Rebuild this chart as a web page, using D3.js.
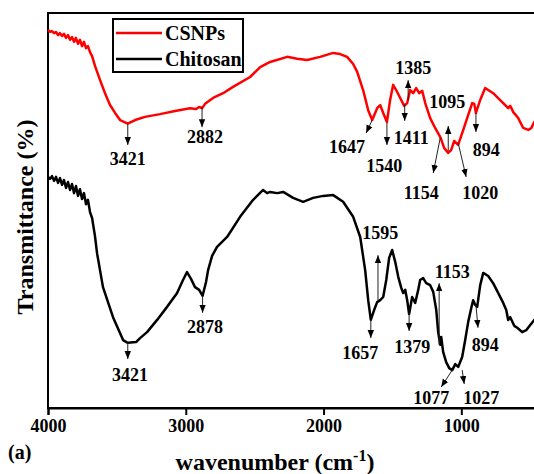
<!DOCTYPE html>
<html>
<head>
<meta charset="utf-8">
<script src="https://cdn.jsdelivr.net/npm/d3@7"></script>
<style>
  body { margin: 0; background: #fff; }
  text { font-family: 'Liberation Serif', 'Times New Roman', serif; font-weight: bold; }
</style>
</head>
<body>
<svg id="ftir"></svg>
<script>
//ftir spectra (wavenumber in cm-1, transmittance in arbitrary %)
let csnpWave = [4000, 3985, 3971, 3956, 3942, 3927, 3913, 3898, 3884, 3869, 3855, 3840, 3826, 3811, 3797, 3782, 3768, 3753, 3739, 3724, 3710, 3695, 3680, 3659,
  3622, 3586, 3550, 3513, 3477, 3421, 3368, 3296, 3187, 3078, 2969, 2925, 2903, 2882, 2860, 2802, 2729, 2657, 2533, 2460, 2388, 2264, 2192, 2119, 2025, 1930,
  1880, 1829, 1785, 1756, 1713, 1676, 1647, 1611, 1589, 1567, 1540, 1517, 1495, 1473, 1451, 1415, 1393, 1371, 1349, 1328, 1306, 1284, 1262, 1226, 1190, 1153,
  1124, 1095, 1074, 1052, 1023, 986, 950, 921, 906, 894, 863, 827, 769, 696, 660, 645, 623, 587, 551, 514, 492, 471, 427]
let csnpT = [95.7, 95.2, 95.4, 94.9, 95.2, 94.4, 94.9, 94.2, 94.7, 93.7, 94.4, 93.2, 93.9, 92.7, 93.7, 92.2, 93.2, 91.6, 92.7, 91.1, 91.6, 90.1, 89.1, 86.6,
  83.0, 79.7, 76.7, 74.7, 72.9, 72.0, 72.9, 73.7, 74.4, 75.2, 75.9, 75.7, 76.2, 75.9, 77.0, 78.5, 79.7, 81.3, 83.8, 86.3, 87.6, 88.9, 88.4, 88.1, 88.9, 89.9,
  89.6, 88.9, 87.1, 85.1, 80.5, 75.4, 72.9, 75.9, 76.7, 74.7, 72.4, 78.0, 81.8, 80.5, 79.0, 76.5, 77.2, 80.5, 79.7, 81.0, 79.7, 80.3, 77.2, 73.4, 70.9, 68.6,
  65.8, 64.6, 65.3, 67.6, 66.6, 70.4, 74.2, 77.2, 77.0, 74.7, 78.0, 81.0, 79.7, 77.2, 75.9, 76.5, 74.9, 73.4, 70.9, 70.4, 70.9, 72.4, 73.9]

let chitosanWave = [4000, 3985, 3971, 3956, 3942, 3927, 3913, 3898, 3884, 3869, 3855, 3840, 3826, 3811, 3797, 3782, 3768, 3753, 3739, 3724, 3710, 3695, 3680, 3659,
  3644, 3601, 3528, 3455, 3421, 3361, 3332, 3281, 3208, 3136, 3063, 3020, 2991, 2962, 2933, 2903, 2878, 2853, 2838, 2809, 2773, 2700, 2606, 2511, 2439, 2410,
  2388, 2337, 2293, 2221, 2148, 2076, 2003, 1930, 1858, 1785, 1734, 1698, 1676, 1657, 1633, 1611, 1589, 1567, 1545, 1524, 1502, 1480, 1458, 1436, 1422, 1407,
  1393, 1379, 1357, 1335, 1313, 1299, 1277, 1255, 1226, 1204, 1182, 1168, 1153, 1146, 1132, 1110, 1088, 1066, 1044, 1023, 994, 972, 950, 928, 914, 899, 885,
  863, 841, 805, 769, 732, 696, 674, 660, 645, 616, 594, 558, 529, 500, 471, 427]
let chitosanT = [58.5, 58.0, 58.7, 57.5, 58.5, 57.0, 58.2, 56.5, 57.7, 55.7, 57.2, 55.2, 56.7, 54.4, 56.2, 53.7, 55.4, 52.9, 54.4, 51.6, 52.7, 49.6, 48.1, 43.5,
  39.2, 30.6, 23.0, 17.2, 16.5, 16.7, 17.7, 19.2, 22.3, 25.6, 29.1, 32.4, 34.4, 32.7, 30.6, 29.9, 28.4, 31.9, 34.9, 38.5, 40.8, 43.3, 48.4, 52.7, 55.2, 54.4,
  54.7, 54.4, 54.7, 53.2, 52.2, 53.2, 53.7, 53.9, 52.2, 48.4, 43.3, 34.9, 27.3, 22.3, 24.8, 26.8, 27.3, 28.1, 32.4, 38.0, 40.0, 37.0, 33.2, 30.4, 29.1, 29.9,
  27.3, 23.8, 28.1, 26.6, 29.9, 32.4, 32.9, 31.6, 31.1, 29.4, 24.8, 19.2, 16.0, 18.0, 14.2, 11.6, 10.1, 9.6, 11.1, 10.4, 12.9, 17.2, 21.8, 25.3, 27.3, 26.1, 25.6,
  31.1, 34.2, 33.4, 31.6, 29.1, 26.6, 24.8, 22.3, 23.0, 20.8, 20.3, 19.2, 19.7, 21.0, 22.3, 23.5]

let seriesNames = ['CSNPs', 'Chitosan']
let seriesColors = ['#ff0000', '#000000']
let tickValues = [4000, 3000, 2000, 1000]

//peak labels: [label, arrow start wave, start T, arrow tip wave, tip T, label wave, label T]
let csnpPeaks = [
  ['3421', 3421, 71.9, 3421, 66.6, 3421, 63.0],
  ['2882', 2882, 76.2, 2882, 71.1, 2860, 68.6],
  ['1647', 1647, 72.9, 1691, 69.6, 1829, 66.1],
  ['1540', 1540, 72.2, 1540, 66.6, 1560, 61.3],
  ['1411', 1411, 77.0, 1411, 72.7, 1364, 68.4],
  ['1385', 1386, 78.0, 1386, 83.0, 1349, 86.1],
  ['1154', 1153, 68.4, 1204, 59.5, 1291, 54.4],
  ['1095', 1095, 65.1, 1095, 71.4, 1102, 77.5],
  ['1020', 1023, 67.1, 965, 58.5, 863, 54.4],
  ['894', 894, 74.7, 894, 69.9, 819, 65.3]
]
let chitosanPeaks = [
  ['3421', 3421, 16.5, 3421, 12.4, 3405, 8.4],
  ['2878', 2878, 28.4, 2878, 24.1, 2860, 20.5],
  ['1657', 1657, 22.3, 1657, 17.7, 1734, 13.9],
  ['1595', 1605, 27.3, 1605, 38.7, 1589, 44.3],
  ['1379', 1379, 24.1, 1379, 19.5, 1357, 15.4],
  ['1153', 1161, 16.0, 1161, 31.6, 1066, 34.4],
  ['1077', 1066, 9.6, 1146, 5.3, 1219, 2.5],
  ['1027', 994, 9.6, 979, 6.1, 856, 2.5],
  ['894', 894, 26.1, 879, 20.3, 827, 15.9]
]

//outer region and inner plotting region
let outerWidth = 534
let outerHeight = 474
let margins = { top: 13, bottom: 66, left: 48, right: 0 }
let innerHeight = outerHeight - margins.top - margins.bottom
let innerWidth = 496

let svg = d3.select('svg#ftir')
  .attr('width', outerWidth)
  .attr('height', outerHeight)

//arrow head
svg.append('defs')
  .append('marker')
  .attr('id', 'head')
  .attr('viewBox', '0 0 10 10')
  .attr('refX', 10)
  .attr('refY', 5)
  .attr('markerUnits', 'userSpaceOnUse')
  .attr('markerWidth', 8)
  .attr('markerHeight', 8)
  .attr('orient', 'auto')
  .append('path')
  .attr('d', 'M0,1 L10,5 L0,9 Z')
  .attr('fill', '#000')

let inner = svg.append('g')
  .attr('transform', 'translate(' + margins.left + ',' + margins.top + ')')

let xScale = d3.scaleLinear().domain([4000, 400]).range([0, innerWidth])
let yScale = d3.scaleLinear().domain([0, 100]).range([innerHeight, 0])

//frame
inner.append('rect')
  .attr('width', innerWidth)
  .attr('height', innerHeight)
  .attr('fill', 'none')
  .attr('stroke', '#000')
  .attr('stroke-width', 2)

//bottom axis
let xAxis = d3.axisBottom(xScale).tickValues(tickValues).tickSize(7).tickPadding(4).tickFormat(d3.format('d'))
let gx = inner.append('g')
  .attr('transform', 'translate(0,' + innerHeight + ')')
  .call(xAxis)
gx.select('.domain').attr('stroke-width', 2)
gx.selectAll('.tick line').attr('stroke-width', 2)
gx.selectAll('.tick text')
  .attr('font-size', 18)
  .attr('fill', '#000')
  .style('font-family', "'Liberation Serif', serif")
  .style('font-weight', 'bold')

//spectra
let line = d3.line()
  .x(d => xScale(d[0]))
  .y(d => yScale(d[1]))

let spectra = [
  d3.zip(csnpWave, csnpT),
  d3.zip(chitosanWave, chitosanT)
]

inner.selectAll('path.spectrum')
  .data(spectra)
  .join('path')
  .attr('class', 'spectrum')
  .attr('d', line)
  .attr('fill', 'none')
  .attr('stroke', (d, i) => seriesColors[i])
  .attr('stroke-width', 2.5)
  .attr('stroke-linejoin', 'round')

//peak arrows and labels
let peaks = csnpPeaks.concat(chitosanPeaks)

inner.selectAll('line.arrow')
  .data(peaks)
  .join('line')
  .attr('class', 'arrow')
  .attr('x1', d => xScale(d[1]))
  .attr('y1', d => yScale(d[2]))
  .attr('x2', d => xScale(d[3]))
  .attr('y2', d => yScale(d[4]))
  .attr('stroke', '#222')
  .attr('stroke-width', 1)
  .attr('marker-end', 'url(#head)')

inner.selectAll('text.peak')
  .data(peaks)
  .join('text')
  .attr('class', 'peak')
  .attr('x', d => xScale(d[5]))
  .attr('y', d => yScale(d[6]) + 6)
  .attr('text-anchor', 'middle')
  .attr('font-size', 18)
  .text(d => d[0])

//legend
let legend = svg.append('g').attr('transform', 'translate(113,19)')
legend.append('rect')
  .attr('width', 130)
  .attr('height', 53)
  .attr('fill', '#fff')
  .attr('stroke', '#000')
  .attr('stroke-width', 2)

let entries = legend.selectAll('g.entry')
  .data(seriesNames)
  .join('g')
  .attr('class', 'entry')
  .attr('transform', (d, i) => 'translate(0,' + (14 + i * 26) + ')')
entries.append('line')
  .attr('x1', 3)
  .attr('x2', 49)
  .attr('stroke', (d, i) => seriesColors[i])
  .attr('stroke-width', 2.5)
entries.append('text')
  .attr('x', 52)
  .attr('y', 7)
  .attr('font-size', 20)
  .text(d => d)

//axis titles
let xTitle = svg.append('text')
  .attr('x', 275)
  .attr('y', 470)
  .attr('text-anchor', 'middle')
  .attr('font-size', 24)
xTitle.append('tspan').text('wavenumber (cm')
xTitle.append('tspan').attr('dy', -9).attr('font-size', 16).text('-1')
xTitle.append('tspan').attr('dy', 9).text(')')

svg.append('text')
  .attr('transform', 'translate(33,217) rotate(-90)')
  .attr('text-anchor', 'middle')
  .attr('font-size', 24)
  .text('Transmittance (%)')

svg.append('text')
  .attr('x', 8)
  .attr('y', 459)
  .attr('font-size', 20)
  .text('(a)')
</script>
</body>
</html>
